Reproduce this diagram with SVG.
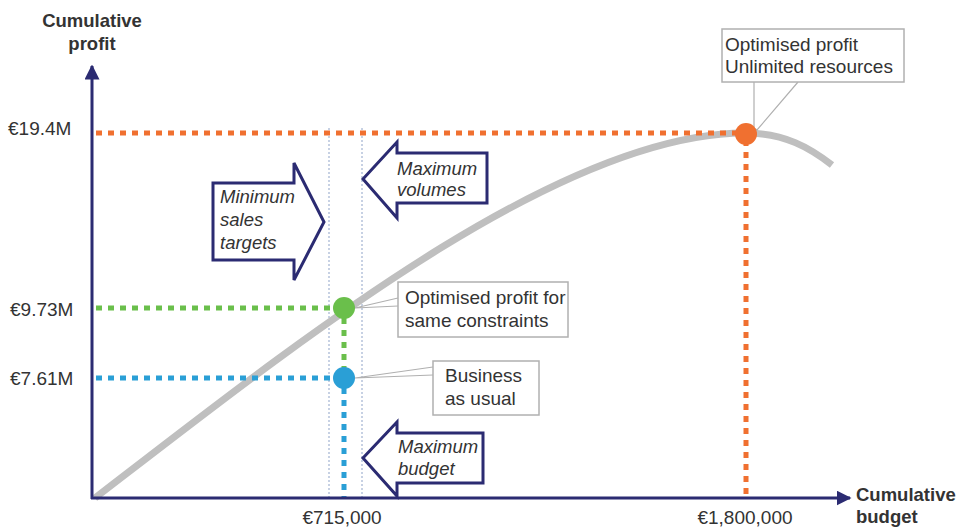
<svg xmlns="http://www.w3.org/2000/svg" width="960" height="529" viewBox="0 0 960 529">
<style>
.t{font-family:"Liberation Sans",Arial,sans-serif;font-size:19px;fill:#333}
.b{font-family:"Liberation Sans",Arial,sans-serif;font-size:18.5px;font-weight:bold;fill:#333}
.i{font-family:"Liberation Sans",Arial,sans-serif;font-size:18.5px;font-style:italic;fill:#333}
.dot{fill:none;stroke-width:5;stroke-dasharray:6 6}
.guide{stroke:#8fa3c8;stroke-width:1;stroke-dasharray:2 2;fill:none}
.arr{fill:#fff;stroke:#2b2b72;stroke-width:3;stroke-linejoin:miter}
.box{fill:#fff;stroke:#b0b0b0;stroke-width:1.5}
.ptr{stroke:#b0b0b0;stroke-width:1.2;fill:none}
</style>
<defs>
<marker id="ah" viewBox="0 0 10 10" refX="9" refY="5" markerWidth="5" markerHeight="5" orient="auto" markerUnits="strokeWidth">
<path d="M0,0 L10,5 L0,10 z" fill="#2b2b72"/>
</marker>
</defs>
<rect width="960" height="529" fill="#fff"/>
<g id="guides">
<line class="guide" x1="329" y1="128" x2="329" y2="498"/>
<line class="guide" x1="362" y1="128" x2="362" y2="498"/>
</g>
<g id="connectors">
<path d="M95,498 C300,340 560,133 745,133 C785,133 810,148 832,165" fill="none" stroke="#bfbfbf" stroke-width="7"/>
<line class="dot" x1="96" y1="133" x2="745" y2="133" stroke="#f07030"/>
<line class="dot" x1="746" y1="140" x2="746" y2="498" stroke="#f07030"/>
<line class="dot" x1="96" y1="308" x2="340" y2="308" stroke="#6abf4b"/>
<line class="dot" x1="344" y1="318" x2="344" y2="370" stroke="#6abf4b"/>
<line class="dot" x1="96" y1="378" x2="340" y2="378" stroke="#2a9fd6"/>
<line class="dot" x1="344" y1="388" x2="344" y2="498" stroke="#2a9fd6"/>
<line x1="92" y1="499" x2="92" y2="66" stroke="#2b2b72" stroke-width="3" marker-end="url(#ah)"/>
<line x1="91" y1="498" x2="850" y2="498" stroke="#2b2b72" stroke-width="3" marker-end="url(#ah)"/>
<polyline class="ptr" points="754,82 754,128 757,130 798,82"/>
<polyline class="ptr" points="398,298 355,308 398,306"/>
<polyline class="ptr" points="433,367 355,378 433,375"/>
</g>
<g id="points">
<circle cx="746" cy="134" r="11" fill="#f07030"/>
<circle cx="344" cy="308" r="11" fill="#6abf4b"/>
<circle cx="344" cy="378" r="11" fill="#2a9fd6"/>
</g>
<g id="axis-labels">
<text class="b" x="92" y="27" text-anchor="middle">Cumulative</text>
<text class="b" x="92" y="50" text-anchor="middle">profit</text>
<text class="b" x="856" y="501">Cumulative</text>
<text class="b" x="856" y="523">budget</text>
<text class="t" x="8" y="135">€19.4M</text>
<text class="t" x="10" y="316">€9.73M</text>
<text class="t" x="10" y="385">€7.61M</text>
<text class="t" x="342" y="524" text-anchor="middle">€715,000</text>
<text class="t" x="745" y="524" text-anchor="middle">€1,800,000</text>
</g>
<g id="min-sales">
<path class="arr" d="M213,183 L294,183 L294,163 L324,222 L294,280 L294,260 L213,260 Z"/>
<text class="i" x="220" y="203">Minimum</text>
<text class="i" x="220" y="226">sales</text>
<text class="i" x="220" y="249">targets</text>
</g>
<g id="max-volumes">
<path class="arr" d="M487,153 L397,153 L397,142 L363,179 L397,218 L397,203 L487,203 Z"/>
<text class="i" x="397" y="175">Maximum</text>
<text class="i" x="397" y="196">volumes</text>
</g>
<g id="max-budget">
<path class="arr" d="M483,433 L397,433 L397,422 L363,458 L397,496 L397,483 L483,483 Z"/>
<text class="i" x="398" y="453">Maximum</text>
<text class="i" x="398" y="475">budget</text>
</g>
<g id="callout-unlimited">
<rect class="box" x="722" y="29" width="182" height="53"/>
<text class="t" x="725" y="51">Optimised profit</text>
<text class="t" x="725" y="73">Unlimited resources</text>
</g>
<g id="callout-same">
<rect class="box" x="398" y="282" width="170" height="55"/>
<text class="t" x="405" y="304">Optimised profit for</text>
<text class="t" x="405" y="327">same constraints</text>
</g>
<g id="callout-bau">
<rect class="box" x="433" y="361" width="106" height="54"/>
<text class="t" x="445" y="382">Business</text>
<text class="t" x="445" y="405">as usual</text>
</g>
</svg>
